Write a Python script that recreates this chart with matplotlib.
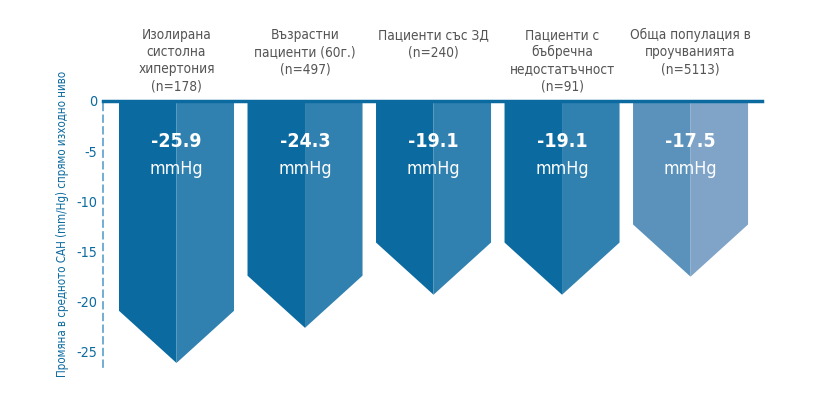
import numpy as np
import matplotlib.pyplot as plt
from matplotlib.patches import Polygon
from matplotlib import font_manager as fm

categories = ['Изолирана\nсистолна\nхипертония\n(n=178)',
              'Възрастни\nпациенти (60г.)\n(n=497)',
              'Пациенти със ЗД\n(n=240)',
              'Пациенти с\nбъбречна\nнедостатъчност\n(n=91)',
              'Обща популация в\nпроучванията\n(n=5113)']
values = [-25.9, -24.3, -19.1, -19.1, -17.5]
# depth of the arrow tips as drawn in the picture
tip_depth = [-26.1, -22.6, -19.3, -19.3, -17.5]
yticks = [0, -5, -10, -15, -20, -25]
ylabel = 'Промяна в средното САН (mm/Hg) спрямо изходно ниво'

dark = ['#0b6a9f', '#0b6a9f', '#0b6a9f', '#0b6a9f', '#5a92bc']
light = ['#3181b0', '#3181b0', '#3181b0', '#3181b0', '#7fa4c8']
blue = '#0b6a9f'


def find_condensed(bold):
    # look for a narrow / condensed face among the installed fonts
    for f in fm.fontManager.ttflist:
        p = f.fname.lower()
        if not ('narrow' in p or 'condensed' in p):
            continue
        if 'italic' in p or 'oblique' in p:
            continue
        is_bold = 'bold' in p
        if is_bold == bold:
            return fm.FontProperties(fname=f.fname)
    return None


reg = find_condensed(False)
bld = find_condensed(True)
narrow = reg is not None
if reg is None:
    reg = fm.FontProperties(family='Liberation Sans')
if bld is None:
    bld = fm.FontProperties(family='Liberation Sans', weight='bold')
k = 1.0 if narrow else 0.85


def fp(base, size):
    f = base.copy()
    f.set_size(size * k)
    return f


fig = plt.figure(figsize=(8.21, 3.97), dpi=100)
ax = fig.add_axes([103 / 821, 1 - 367 / 397, 659 / 821, 266 / 397])

w = 0.895
point = 5.2
for i, (v, tip) in enumerate(zip(values, tip_depth)):
    bottom = tip + point
    left = Polygon([(i - w / 2, 0), (i, 0), (i, tip), (i - w / 2, bottom)],
                   closed=True, fc=dark[i], ec='none')
    right = Polygon([(i, 0), (i + w / 2, 0), (i + w / 2, bottom), (i, tip)],
                    closed=True, fc=light[i], ec='none')
    ax.add_patch(left)
    ax.add_patch(right)
    ax.text(i, -4.0, f'{v:.1f}', ha='center', va='center', color='white',
            fontproperties=fp(bld, 14))
    ax.text(i, -6.8, 'mmHg', ha='center', va='center', color='white',
            fontproperties=fp(reg, 12.8))
    ax.text(i, 7.3, categories[i], ha='center', va='top', color='#555555',
            fontproperties=fp(reg, 9.8), linespacing=1.3)

ax.axhline(0, color=blue, lw=2.5, zorder=5, clip_on=False)
ax.set_xlim(-0.572, 4.556)
ax.set_ylim(-26.5, 0)

for s in ['top', 'right', 'bottom']:
    ax.spines[s].set_visible(False)
ax.spines['left'].set_color('#5b9fcb')
ax.spines['left'].set_linestyle((0, (4, 3)))
ax.spines['left'].set_linewidth(1.2)

ax.set_xticks([])
ax.set_yticks(yticks)
ax.set_yticklabels([str(t) for t in yticks])
ax.tick_params(axis='y', length=0, pad=4, colors=blue)
for lab in ax.get_yticklabels():
    lab.set_fontproperties(fp(reg, 10.3))

fig.text(63 / 821, 1 - 224 / 397, ylabel, rotation=90, ha='center',
         va='center', color=blue, fontproperties=fp(reg, 8.3 if narrow else 7.6))

fig.savefig('out.png', dpi=100)
